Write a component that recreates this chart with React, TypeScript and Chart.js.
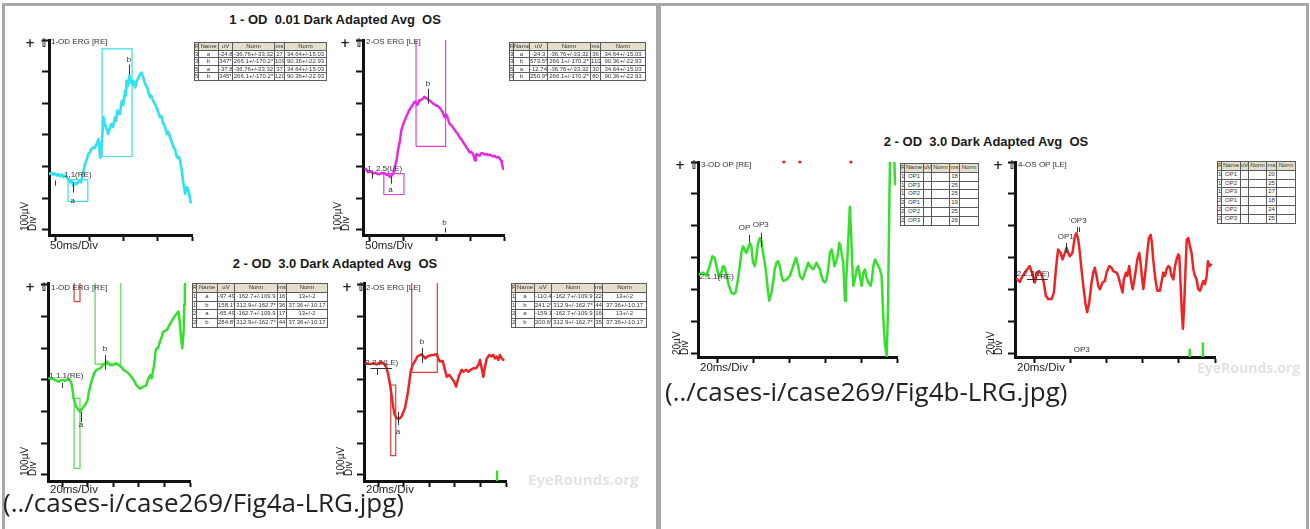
import React, { useEffect, useRef } from "react";
import { Chart, registerables } from "chart.js";

Chart.register(...registerables);

type P = [number, number];
type Box = [number, number, number, number]; // x1, x2, y1, y2 (data units)
type Seg = [number, number, number]; // x, y1, y2
type HSeg = [number, number, number]; // x1, x2, y
type Txt = [number, number, string, CanvasTextAlign?];

// ---------------- titles & captions ----------------
const figATitleTop = "1 - OD  0.01 Dark Adapted Avg  OS";
const figATitleBottom = "2 - OD  3.0 Dark Adapted Avg  OS";
const figBTitle = "2 - OD  3.0 Dark Adapted Avg  OS";
const figACaption = "(../cases-i/case269/Fig4a-LRG.jpg)";
const figBCaption = "(../cases-i/case269/Fig4b-LRG.jpg)";
const watermark = "EyeRounds.org";

// ---------------- tick values ----------------
const ticks50ms = [0, 50, 100, 150, 200];
const ticks20ms = [0, 20, 40, 60, 80, 100];
const ticksScotopicUv = [-200, -100, 0, 100, 200, 300, 400];
const ticksCombinedUv = [-300, -200, -100, 0, 100, 200, 300];
const ticksOpUv = [-60, -40, -20, 0, 20, 40, 60];

// ---------------- 1 - 0.01 dark adapted (ms, µV) ----------------
const scotopicOdTrace: P[] = [
  [-9.5, -23], [-6, -20], [-3.7, -25], [-1, -22], [1.3, -28], [4, -24], [6, -30], [8.7, -25], [11, -33], [13, -28],
  [16, -34], [18, -40], [20.9, -49], [23, -45], [25.7, -60], [28, -52], [30.7, -55], [33, -48], [35.6, -44], [37, -50],
  [39.5, -23], [41, -10], [43, 8], [45, 20], [47.8, 40], [50, 45], [52, 55], [55, 61], [57, 58], [60, 72],
  [62.5, 87], [63.5, 75], [65, 29], [66, 50], [67.5, 72], [70, 156], [71.5, 140], [73.8, 124], [75.5, 115], [77, 103],
  [79, 120], [82, 135], [84, 125], [87, 156], [88.5, 145], [90.4, 177], [92, 168], [94, 166], [97, 208], [99, 195],
  [102, 240], [103, 225], [104, 271], [106, 255], [108, 287], [110, 265], [112, 271], [113, 258], [114, 271], [116.5, 250],
  [119, 271], [121, 280], [124, 292], [126, 297], [129, 277], [131, 262], [134, 250], [136, 235], [138.5, 219], [140, 225],
  [143, 208], [145, 200], [148, 187], [150, 175], [153, 156], [155, 160], [158, 135], [160, 128], [163, 103], [165, 110],
  [168, 92], [170, 80], [173, 61], [175, 55], [178, 29], [180, 32], [182.6, 19], [185, -13], [187.5, -55], [190, -86],
  [192.5, -65], [195, -76], [198, -113],
];
const scotopicOsTrace: P[] = [
  [-6, -7], [-2.5, -18], [1, -15], [5, -21], [9, -19], [12, -24], [15, -23], [18, -20], [22, -21], [25, -26],
  [27, -25], [29, -30], [31, -32], [33, -27], [35, -23], [37, -2], [40, 19], [42, 50], [45, 82], [47, 114],
  [50, 135], [52, 145], [55, 161], [58, 175], [60, 182], [63, 192], [65, 198], [67, 205], [69, 203], [70.5, 195],
  [72, 198], [74, 210], [75, 208], [77, 212], [79, 214], [81, 220], [82, 219], [84, 216], [86, 214], [88, 210],
  [90, 208], [92, 204], [95, 198], [97, 196], [100, 192], [102, 190], [104, 187], [106, 180], [109, 171], [110.5, 160],
  [112, 156], [113.5, 165], [115, 161], [117, 148], [119, 135], [121, 132], [124, 124], [126, 118], [129, 108], [131, 104],
  [134, 92], [136, 88], [139, 77], [141, 72], [144, 61], [146, 55], [149, 45], [151, 47], [154, 40], [155.5, 28],
  [157, 19], [158, 32], [159, 40], [162, 36], [164, 35], [166, 42], [169, 42], [171, 38], [174, 40], [176, 36],
  [179, 38], [181, 35], [184, 32], [186, 34], [189, 29], [192, 30], [194, 24], [196, 18], [197, 8], [199, -7],
];
const scotopicOdWindows: Box[] = [[18, 47, -41, -110], [68, 112, 32, 372]];
const scotopicOsWindows: Box[] = [[21, 51, -22, -88], [69, 113, 64, 600]];
const scotopicOdMarks: Seg[] = [[25, -50, -82], [107.5, 322, 290], [-1, -44, -60]];
const scotopicOsMarks: Seg[] = [[31, -32, -54], [86.6, 199, 246], [111.5, -193, -208], [3, -19, -38]];
const scotopicOdLabels: Txt[] = [[25, -107, "a"], [107.5, 336, "b"], [12, -25, "1,1(RE)", "left"]];
const scotopicOsLabels: Txt[] = [[31, -73, "a"], [86.6, 262, "b"], [111.5, -178, "b"], [-4, -6, "1, 2.5(LE)", "left"]];

// ---------------- 2 - 3.0 dark adapted (ms, µV) ----------------
const combinedOdTrace: P[] = [
  [-10, 5], [-7, 3], [-3, -5], [0, 0], [2, -3], [5, 3], [7, -5], [8, -26], [9, -58], [11, -84],
  [13, -95], [14, -100], [16, -89], [18, -79], [20, -63], [21, -37], [23, -5], [25, 21], [27, 32], [30, 37],
  [32, 47], [34, 53], [35, 58], [37.5, 47], [40, 47], [42, 53], [44, 47], [46, 42], [48, 32], [50.5, 26],
  [53, 16], [56, 0], [58, -16], [61, -28], [63.5, -21], [66, -16], [67, 0], [69, 16], [70, 5], [71, 26],
  [72, 47], [73, 89], [74, 100], [75, 100], [76.5, 121], [78, 137], [79, 152], [82, 158], [84, 174], [87, 195],
  [89.6, 210], [91, 216], [92, 184], [93, 132], [94, 100], [95, 152], [95.5, 237], [96, 300], [97, 331],
];
const combinedOsTrace: P[] = [
  [-9.4, 53], [-6.3, 50], [-3.6, 53], [-1, 49], [1.6, 56], [4, 53], [6, 47], [8, 16], [9.4, -16], [10.7, -53],
  [12, -89], [13, -110], [14.6, -121], [16, -123], [17.7, -119], [19, -110], [21, -89], [23, -47], [24.5, -5], [25.5, 26],
  [27, 47], [29, 60], [30.7, 74], [33, 79], [34, 81], [35, 77], [37, 68], [38.5, 74], [40.6, 77], [43, 79],
  [46, 81], [47, 68], [48.4, 58], [50.5, 60], [52, 37], [53.6, 10], [55.7, 16], [57.6, 5], [59.4, -5], [61, -21],
  [62, -5], [63.5, 16], [65.4, 32], [66.7, 26], [68.8, 32], [70.6, 26], [72.4, 32], [74.5, 37], [76.6, 37], [78.4, 47],
  [79.7, 63], [81, 37], [82.3, 10], [83.6, 42], [85, 68], [87, 79], [88.8, 74], [90, 79], [91.4, 68], [92.7, 74],
  [94, 63], [95.3, 79], [96.6, 68], [98, 63],
];
const combinedOsStimulus: P[] = [[93, -319], [93, -290]];
const combinedOdWindows: Box[] = [[9.4, 14, -58, -279], [25.8, 45.9, 50, 400]];
const combinedOdRefWindow: Box[] = [[9.4, 14, 247, 310]];
const combinedOsWindows: Box[] = [[9.9, 13.8, -16, -239], [26.3, 46.3, 24, 400]];
const combinedOdMarks: Seg[] = [[33.6, 79, 32], [14.8, -101, -133], [0, -9, -25]];
const combinedOsMarks: Seg[] = [[34.4, 101, 54], [15.6, -101, -142], [-0.8, 38, 16]];
const combinedOsBaseline: HSeg[] = [[-6, 11, 38]];
const combinedOdLabels: Txt[] = [[33.6, 97, "b"], [14.8, -143, "a"], [-10, 13, "1.1.1(RE)", "left"]];
const combinedOsLabels: Txt[] = [[34.4, 120, "b"], [15.6, -164, "a"], [-10, 54, "2.2.2(LE)", "left"]];

// ---------------- oscillatory potentials (ms, µV) ----------------
const opOdTrace: P[] = [
  [-10, -10.6], [-8.2, -9.5], [-6.3, -11.6], [-4.5, -5.4], [-3, 0.8], [-1.7, -0.2], [-0.7, -5.4], [0.7, -12.6], [2, -9.5], [3, -5.4],
  [4, -6.4], [4.9, -11.6], [6.3, -17.8], [7.6, -21.9], [8.9, -23], [10, -21.9], [11.3, -13.7], [12.3, -5.4], [13.2, 2.9], [14.1, 7],
  [15, 5], [16, 2.9], [17, 6], [17.9, 9.1], [18.8, 7], [19.7, -3.3], [20.7, -5.4], [21.6, 0.8], [22.5, 9.1], [23.5, 12.2],
  [24.4, 10.1], [25.3, 2.9], [26.8, -7.5], [28.1, -21.9], [28.7, -27.1], [30, -21.9], [30.9, -15.7], [31.8, -7.5], [32.8, -3.3], [33.7, -2.3],
  [34.6, -5.4], [35.6, -11.6], [36.5, -14.7], [38.4, -13.7], [40.2, -11.6], [42.1, -5.4], [43.6, -0.2], [44.9, -5.4], [45.8, -11.6], [47.3, -13.7],
  [48.6, -9.5], [49.6, -6.4], [50.5, -3.3], [51.4, -5.4], [52.3, -6.4], [53.2, -7.5], [54.2, -5.4], [55.1, -3.3], [56, -5.4], [57, -7.5],
  [57.9, -11.6], [58.8, -14.7], [59.8, -15.7], [60.7, -13.7], [61.6, -7.5], [62.6, 2.9], [63.5, 5], [64.4, 0.8], [65, -5.4], [65.9, -3.3],
  [66.9, 0.8], [67.8, 9.1], [68.5, 7], [69.1, 2.9], [70, -3.3], [71, -27.1], [71.5, -17.8], [72.3, -1.2], [73, 15.3], [73.7, 31.9],
  [74.3, 17.4], [75, -3.3], [75.6, -17.8], [76.5, -13.7], [77.5, -7.5], [78.4, -5.4], [79.3, -11.6], [80.3, -17.8], [81.2, -9.5], [82.1, -7.5],
  [83, -12.6], [84, -15.7], [85.3, -17.8], [86, -13.7], [86.8, -5.4], [87.7, -1.2], [88.7, -3.3], [89.6, -5.4], [90.5, -7.5], [91.4, -11.6],
  [92.4, -38.5], [93.3, -55], [94.3, -62], [95, -30], [95.8, 40], [96.3, 75], [97.5, 90], [98.5, 62], [98.9, 46],
];
const opOsTrace: P[] = [
  [-9.8, -13.7], [-8.3, -15.3], [-6.8, -11.6], [-5.6, -9.5], [-4.3, -7.5], [-2.8, -5.4], [-1.3, -10.6], [0, -15.7], [1.3, -9.5], [2.4, -8.5],
  [3.7, -10.6], [5, -15.7], [6.1, -24], [7.4, -26.1], [9.3, -26.1], [10.6, -21.9], [11.7, -7.5], [12.9, 5], [14.3, 2.9], [15.4, -1.2],
  [16.7, 2.9], [17.6, 6], [18.5, 2.9], [19.4, 0.8], [20.9, 2.9], [22.2, 13.2], [23.1, 15.3], [24.1, 11.2], [25, 2.9], [25.9, -7.5],
  [26.9, -17.8], [28.3, -30.2], [29.1, -34.3], [30.2, -28.1], [31.5, -15.7], [32.4, -9.5], [33.3, -6.4], [34.3, -11.6], [35.2, -17.8], [36.1, -19.9],
  [37.6, -15.7], [38.9, -14.7], [39.8, -9.5], [41.3, -5.4], [42.6, -6.4], [43.5, -8.5], [45.4, -9.5], [46.3, -11.6], [47.2, -15.7], [48.7, -21.9],
  [49.4, -13.7], [50.6, -9.5], [51.3, -11.6], [52.4, -5.4], [53.3, -13.7], [54.3, -19.9], [55, -15.7], [56.1, -7.5], [56.9, -1.2], [58, 2.9],
  [58.7, -3.3], [59.4, -11.6], [60.2, -19.9], [60.7, -15.7], [61.5, -7.5], [62.4, 2.9], [63.3, 12.2], [64.3, 14.3], [65, 9.1], [65.7, -1.2],
  [66.9, -13.7], [68, -20.9], [69.4, -20.9], [70.6, -13.7], [71.3, -9.5], [72.2, -11.6], [73.1, -7.5], [74.1, -5.4], [75, -6.4], [75.9, -11.6],
  [76.9, -13.7], [77.8, -5.4], [78.7, -1.2], [79.6, 1.9], [80.2, 0.8], [81.1, -21.9], [81.7, -36.5], [82.2, -44.7], [82.8, -32.3], [83.5, -11.6],
  [84.3, 11.2], [85.2, 12.2], [86.1, 7], [87, 2.9], [88, -7.5], [88.9, -11.6], [89.8, -13.7], [90.7, -19.9], [91.7, -20.9], [92.6, -17.8],
  [93.5, -14.7], [94.4, -16.8], [95.4, -11.6], [96.1, -2.3], [96.9, -5.4], [97.8, -4.4],
];
const opOsStimulusA: P[] = [[86, -62.5], [86, -58]];
const opOsStimulusB: P[] = [[93.3, -62.5], [93.3, -54]];
const opOdFlags: P[] = [[36.9, 60], [45.8, 60], [74.3, 60]];
const opOdMarks: Seg[] = [[17.3, 14.2, 9.8], [24, 15.5, 6.7]];
const opOsMarks: Seg[] = [[17.2, 9.2, 2.9], [23.4, 19, 16], [24.5, 19, 16], [-1, -10, -16]];
const opOsBaseline: HSeg[] = [[-4.4, 7.2, -13.5]];
const opOdLabels: Txt[] = [[15, 18.6, "OP"], [24, 20.5, "OP3"], [-10, -12, "2.1.1(RE)", "left"]];
const opOsLabels: Txt[] = [[17.2, 13, "OP1"], [23.9, 23, "'OP3"], [-10, -10, "2.2.2(LE)", "left"], [26, -58, "OP3"]];

// ---------------- result tables ----------------
const tableHeader = ["R", "Name", "uV", "Norm", "ms", "Norm"];
const scotopicOdTable = [
  ["3", "a", "-24.8", "-36.76+/-33.32", "27", "34.64+/-15.03"],
  ["3", "b", "347*", "266.1+/-170.2*", "109", "90.36+/-22.93"],
  ["5", "a", "-37.8", "-36.76+/-33.32", "37", "34.64+/-15.03"],
  ["5", "b", "345*", "266.1+/-170.2*", "120", "90.36+/-22.93"],
];
const scotopicOsTable = [
  ["3", "a", "-24.3", "-36.76+/-33.32", "36", "34.64+/-15.03"],
  ["3", "b", "573.5*", "266.1+/-170.2*", "110", "90.36+/-22.93"],
  ["5", "a", "-12.74", "-36.76+/-33.32", "30", "34.64+/-15.03"],
  ["5", "b", "250.9*", "266.1+/-170.2*", "80", "90.36+/-22.93"],
];
const combinedOdTable = [
  ["1", "a", "-97.49", "-162.7+/-109.9", "16", "13+/-2"],
  ["1", "b", "158.1*", "312.9+/-162.7*", "36", "37.36+/-10.17"],
  ["2", "a", "-65.49", "-162.7+/-109.9", "17", "13+/-2"],
  ["2", "b", "284.8*", "312.9+/-162.7*", "44", "37.36+/-10.17"],
];
const combinedOsTable = [
  ["1", "a", "-110.4", "-162.7+/-109.9", "22", "13+/-2"],
  ["1", "b", "241.2*", "312.9+/-162.7*", "44", "37.36+/-10.17"],
  ["2", "a", "-159.1", "-162.7+/-109.9", "16", "13+/-2"],
  ["2", "b", "200.6*", "312.9+/-162.7*", "35", "37.36+/-10.17"],
];
const opOdTable = [
  ["1", "OP1", "", "", "18", ""],
  ["1", "OP3", "", "", "25", ""],
  ["1", "OP2", "", "", "25", ""],
  ["2", "OP1", "", "", "19", ""],
  ["2", "OP2", "", "", "25", ""],
  ["2", "OP3", "", "", "26", ""],
];
const opOsTable = [
  ["1", "OP1", "", "", "20", ""],
  ["1", "OP2", "", "", "25", ""],
  ["1", "OP3", "", "", "27", ""],
  ["2", "OP1", "", "", "18", ""],
  ["2", "OP2", "", "", "24", ""],
  ["2", "OP3", "", "", "25", ""],
];

// ---------------- chart machinery ----------------
const PL = 4, YW = 8, PT = 6, PR = 6, XH = 8, PB = 2;
const FONT = '"Liberation Sans", Arial, sans-serif';

interface Series { data: P[]; color: string; width: number }
interface Spec {
  area: { l: number; t: number; r: number; b: number };
  x: [number, number, number[]];
  y: [number, number, number[]];
  traces: Series[];
  boxes: { list: Box[]; color: string }[];
  dots?: { data: P[]; color: string };
  marks?: Seg[];
  hlines?: HSeg[];
  texts?: Txt[];
}

function annotPlugin(spec: Spec) {
  return {
    id: "ergAnnot",
    afterDatasetsDraw(chart: any) {
      const { ctx } = chart;
      const xs = chart.scales.x, ys = chart.scales.y;
      ctx.save();
      ctx.strokeStyle = "#333";
      ctx.lineWidth = 1;
      for (const m of spec.marks ?? []) {
        const px = Math.round(xs.getPixelForValue(m[0])) + 0.5;
        ctx.beginPath();
        ctx.moveTo(px, ys.getPixelForValue(m[1]));
        ctx.lineTo(px, ys.getPixelForValue(m[2]));
        ctx.stroke();
      }
      for (const h of spec.hlines ?? []) {
        const py = Math.round(ys.getPixelForValue(h[2])) + 0.5;
        ctx.beginPath();
        ctx.moveTo(xs.getPixelForValue(h[0]), py);
        ctx.lineTo(xs.getPixelForValue(h[1]), py);
        ctx.stroke();
      }
      ctx.fillStyle = "#333";
      ctx.font = `8px ${FONT}`;
      ctx.textBaseline = "middle";
      for (const t of spec.texts ?? []) {
        ctx.textAlign = t[3] ?? "center";
        ctx.fillText(t[2], xs.getPixelForValue(t[0]), ys.getPixelForValue(t[1]));
      }
      ctx.restore();
    },
  };
}

function ErgChart({ spec }: { spec: Spec }) {
  const ref = useRef<HTMLCanvasElement>(null);
  const { l, t, r, b } = spec.area;
  const W = r - l + PL + YW + PR;
  const H = b - t + PT + XH + PB;
  useEffect(() => {
    const datasets: any[] = [];
    for (const s of spec.traces) {
      datasets.push({
        data: s.data.map(([x, y]) => ({ x, y })),
        borderColor: s.color,
        borderWidth: s.width,
        pointRadius: 0,
        tension: 0,
        fill: false,
        borderJoinStyle: "round",
        borderCapStyle: "round",
      });
    }
    for (const g of spec.boxes) {
      for (const [x1, x2, y1, y2] of g.list) {
        datasets.push({
          data: [
            { x: x1, y: y1 }, { x: x2, y: y1 }, { x: x2, y: y2 }, { x: x1, y: y2 }, { x: x1, y: y1 },
          ],
          borderColor: g.color,
          borderWidth: 1.2,
          pointRadius: 0,
          tension: 0,
          fill: false,
        });
      }
    }
    if (spec.dots) {
      datasets.push({
        data: spec.dots.data.map(([x, y]) => ({ x, y })),
        showLine: false,
        pointRadius: 1.6,
        pointBorderWidth: 0,
        pointBackgroundColor: spec.dots.color,
        borderColor: spec.dots.color,
        clip: false,
      });
    }
    const [xmin, xmax, xt] = spec.x;
    const [ymin, ymax, yt] = spec.y;
    const chart = new Chart(ref.current as HTMLCanvasElement, {
      type: "line",
      data: { datasets },
      options: {
        animation: false,
        responsive: false,
        devicePixelRatio: 1,
        events: [],
        layout: { padding: { left: PL, top: PT, right: PR, bottom: PB } },
        plugins: { legend: { display: false }, tooltip: { enabled: false } },
        scales: {
          x: {
            type: "linear",
            min: xmin,
            max: xmax,
            afterBuildTicks: (ax: any) => { ax.ticks = xt.map((v) => ({ value: v })); },
            afterFit: (s: any) => { s.height = XH; },
            ticks: { display: false },
            grid: { drawOnChartArea: false, drawTicks: true, tickLength: 6, tickWidth: 2, tickColor: "#111", color: "#111" },
            border: { display: true, color: "#111", width: 3 },
          },
          y: {
            type: "linear",
            min: ymin,
            max: ymax,
            afterBuildTicks: (ax: any) => { ax.ticks = yt.map((v) => ({ value: v })); },
            afterFit: (s: any) => { s.width = YW; },
            ticks: { display: false },
            grid: { drawOnChartArea: false, drawTicks: true, tickLength: 7, tickWidth: 2, tickColor: "#111", color: "#111" },
            border: { display: true, color: "#111", width: 3 },
          },
        },
      } as any,
      plugins: [annotPlugin(spec) as any],
    });
    return () => chart.destroy();
  }, []);
  return (
    <canvas
      ref={ref}
      width={W}
      height={H}
      style={{ position: "absolute", left: l - PL - YW, top: t - PT, width: W, height: H }}
    />
  );
}

// ---------------- html helpers ----------------
function Txt({ x, y, text, size = 8, bold = false, color = "#333", font = FONT, lh }: any) {
  const h = lh ?? size + 2;
  return (
    <div
      style={{
        position: "absolute", left: x, top: y - h / 2, fontSize: size, lineHeight: `${h}px`,
        fontWeight: bold ? 700 : 400, color, fontFamily: font, whiteSpace: "pre",
      }}
    >
      {text}
    </div>
  );
}

function Title({ cx, cy, text }: { cx: number; cy: number; text: string }) {
  return (
    <div
      style={{
        position: "absolute", left: cx - 150, width: 300, top: cy - 8, lineHeight: "16px", textAlign: "center",
        fontSize: 13, fontWeight: 700, color: "#1a1a1a", fontFamily: FONT, whiteSpace: "pre",
      }}
    >
      {text}
    </div>
  );
}

function UnitY({ x, bottom, top, value }: { x: number; bottom: number; top: number; value: string }) {
  return (
    <div
      style={{
        position: "absolute", left: x, top, width: 17, height: bottom - top, writingMode: "vertical-rl",
        transform: "rotate(180deg)", fontSize: 10, lineHeight: "8px", fontFamily: FONT, color: "#222", whiteSpace: "nowrap",
      }}
    >
      {value}
      <br />
      Div
    </div>
  );
}

function ResultTable({ left, top, widths, rowH, rows }: { left: number; top: number; widths: number[]; rowH: number; rows: string[][] }) {
  const cell: React.CSSProperties = {
    border: "1px solid #5a5a5a", padding: 0, height: rowH - 1, whiteSpace: "nowrap", overflow: "hidden",
    textAlign: "center", lineHeight: `${rowH - 1}px`,
  };
  return (
    <table
      style={{
        position: "absolute", left, top, borderCollapse: "collapse", tableLayout: "fixed",
        width: widths.reduce((a, b) => a + b, 0), fontSize: 6, fontFamily: FONT, color: "#333", background: "#fff",
      }}
    >
      <colgroup>
        {widths.map((w, i) => <col key={i} style={{ width: w }} />)}
      </colgroup>
      <tbody>
        <tr style={{ background: "#e4dfca" }}>
          {tableHeader.map((h, i) => <td key={i} style={cell}>{h}</td>)}
        </tr>
        {rows.map((r, i) => (
          <tr key={i}>{r.map((c, j) => <td key={j} style={cell}>{c}</td>)}</tr>
        ))}
      </tbody>
    </table>
  );
}

const CYAN = "#34e2ef";
const MAGENTA = "#e52ae5";
const GREEN = "#36df2c";
const RED = "#ec2424";

const specs: Spec[] = [
  {
    area: { l: 49, t: 40, r: 192, b: 235 },
    x: [-10, 200, ticks50ms], y: [-216, 400, ticksScotopicUv],
    traces: [{ data: scotopicOdTrace, color: CYAN, width: 2.7 }],
    boxes: [{ list: scotopicOdWindows, color: "#3fdcea" }],
    marks: scotopicOdMarks, texts: scotopicOdLabels,
  },
  {
    area: { l: 363, t: 40, r: 504, b: 235 },
    x: [-10, 200, ticks50ms], y: [-216, 400, ticksScotopicUv],
    traces: [{ data: scotopicOsTrace, color: MAGENTA, width: 2.5 }],
    boxes: [{ list: scotopicOsWindows, color: "#e040e0" }],
    marks: scotopicOsMarks, texts: scotopicOsLabels,
  },
  {
    area: { l: 48, t: 283, r: 190, b: 481 },
    x: [-11, 100, ticks20ms], y: [-319, 306, ticksCombinedUv],
    traces: [{ data: combinedOdTrace, color: GREEN, width: 2.5 }],
    boxes: [{ list: combinedOdWindows, color: "#5ad55a" }, { list: combinedOdRefWindow, color: "#e03a3a" }],
    marks: combinedOdMarks, texts: combinedOdLabels,
  },
  {
    area: { l: 364, t: 283, r: 506, b: 481 },
    x: [-11, 100, ticks20ms], y: [-319, 306, ticksCombinedUv],
    traces: [{ data: combinedOsTrace, color: RED, width: 2.5 }, { data: combinedOsStimulus, color: GREEN, width: 2.5 }],
    boxes: [{ list: combinedOsWindows, color: "#e03a3a" }],
    marks: combinedOsMarks, hlines: combinedOsBaseline, texts: combinedOsLabels,
  },
  {
    area: { l: 698, t: 162, r: 897, b: 357 },
    x: [-11, 100, ticks20ms], y: [-62.5, 60, ticksOpUv],
    traces: [{ data: opOdTrace, color: GREEN, width: 2.5 }],
    boxes: [],
    dots: { data: opOdFlags, color: "#e02020" },
    marks: opOdMarks, texts: opOdLabels,
  },
  {
    area: { l: 1015, t: 162, r: 1215, b: 357 },
    x: [-11, 100, ticks20ms], y: [-62.5, 60, ticksOpUv],
    traces: [
      { data: opOsTrace, color: RED, width: 2.5 },
      { data: opOsStimulusA, color: GREEN, width: 2.5 },
      { data: opOsStimulusB, color: GREEN, width: 2.5 },
    ],
    boxes: [],
    marks: opOsMarks, hlines: opOsBaseline, texts: opOsLabels,
  },
];

const BORDER = "#a7a7a7";

export default function App() {
  return (
    <div
      style={{
        position: "absolute", left: 0, top: 0, width: 1310, height: 529, overflow: "hidden",
        background: "#fff", fontFamily: FONT, color: "#222",
      }}
    >
      {/* frame */}
      <div style={{ position: "absolute", left: 2, top: 3, width: 1307, height: 3, background: BORDER }} />
      <div style={{ position: "absolute", left: 2, top: 3, width: 3, height: 526, background: BORDER }} />
      <div style={{ position: "absolute", left: 656, top: 3, width: 5, height: 526, background: BORDER }} />
      <div style={{ position: "absolute", left: 1306, top: 3, width: 3, height: 526, background: BORDER }} />

      {/* titles */}
      <Title cx={335} cy={20} text={figATitleTop} />
      <Title cx={335} cy={264} text={figATitleBottom} />
      <Title cx={986} cy={142} text={figBTitle} />

      {specs.map((s, i) => <ErgChart key={i} spec={s} />)}

      {/* axis furniture */}
      {[[25, 43], [340, 43], [25, 287], [342, 287], [675, 165], [993, 165]].map(([x, y], i) => (
        <Txt key={"p" + i} x={x} y={y} text={"+ \u21E7"} size={12} bold color="#222" font={'"DejaVu Sans", sans-serif'} lh={13} />
      ))}
      <Txt x={51} y={42} text="1-OD ERG [RE]" />
      <Txt x={366} y={42} text="2-OS ERG [LE]" />
      <Txt x={51} y={288} text="1-OD ERG [RE]" />
      <Txt x={366} y={288} text="2-OS ERG [LE]" />
      <Txt x={701} y={165} text="3-OD OP [RE]" />
      <Txt x={1018} y={165} text="4-OS OP [LE]" />

      <Txt x={50} y={246} text="50ms/Div" size={11.5} color="#222" />
      <Txt x={365} y={246} text="50ms/Div" size={11.5} color="#222" />
      <Txt x={50} y={490} text="20ms/Div" size={11.5} color="#222" />
      <Txt x={366} y={490} text="20ms/Div" size={11.5} color="#222" />
      <Txt x={700} y={368} text="20ms/Div" size={11.5} color="#222" />
      <Txt x={1017} y={368} text="20ms/Div" size={11.5} color="#222" />

      <UnitY x={21} top={199} bottom={231} value={"100\u00B5V"} />
      <UnitY x={334} top={199} bottom={231} value={"100\u00B5V"} />
      <UnitY x={21} top={444} bottom={476} value={"100\u00B5V"} />
      <UnitY x={337} top={444} bottom={476} value={"100\u00B5V"} />
      <UnitY x={673} top={326} bottom={355} value={"20\u00B5V"} />
      <UnitY x={987} top={326} bottom={355} value={"20\u00B5V"} />

      {/* tables */}
      <ResultTable left={194} top={42} widths={[4, 20, 14, 42, 10, 42]} rowH={7.6} rows={scotopicOdTable} />
      <ResultTable left={509} top={42} widths={[4, 16, 18, 43, 10, 45]} rowH={7.6} rows={scotopicOsTable} />
      <ResultTable left={192} top={283} widths={[4, 21, 17, 43, 9, 41]} rowH={8.8} rows={combinedOdTable} />
      <ResultTable left={511} top={283} widths={[4, 19, 17, 43, 8, 44]} rowH={8.8} rows={combinedOsTable} />
      <ResultTable left={900} top={163} widths={[4, 19, 8, 18, 10, 19]} rowH={8.8} rows={opOdTable} />
      <ResultTable left={1217} top={161} widths={[4, 19, 8, 18, 10, 19]} rowH={8.8} rows={opOsTable} />

      {/* watermarks */}
      <Txt x={528} y={479} text={watermark} size={15} color="#e3e3e3" bold font={'"Open Sans", sans-serif'} lh={18} />
      <Txt x={1197} y={368} text={watermark} size={14} color="#e3e3e3" bold font={'"Open Sans", sans-serif'} lh={18} />

      {/* captions */}
      <div style={{ position: "absolute", left: 3, top: 485, fontSize: 26, lineHeight: "35px", fontFamily: '"Open Sans", sans-serif', color: "#222", whiteSpace: "nowrap" }}>
        {figACaption}
      </div>
      <div style={{ position: "absolute", left: 665, top: 374, fontSize: 26, lineHeight: "35px", fontFamily: '"Open Sans", sans-serif', color: "#222", whiteSpace: "nowrap" }}>
        {figBCaption}
      </div>
    </div>
  );
}
